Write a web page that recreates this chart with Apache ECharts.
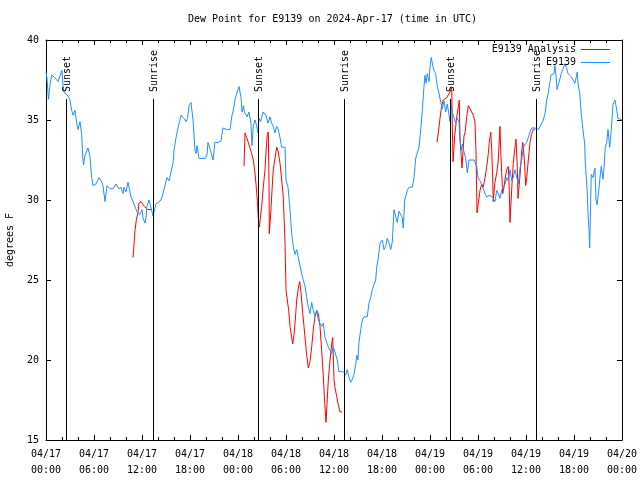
<!DOCTYPE html>
<html>
<head>
<meta charset="utf-8">
<script src="https://cdn.jsdelivr.net/npm/echarts@6/dist/echarts.min.js"></script>
<style>html,body{margin:0;padding:0;background:#fff}#c{width:640px;height:480px}</style>
</head>
<body>
<div id="c"></div>
<script>
// ---- Data (hours since 2024-04-17 00:00 UTC, dew point in deg F) ----
const chartTitle = 'Dew Point for E9139 on 2024-Apr-17 (time in UTC)';
const yAxisName = 'degrees F';
const xTickLabels = ['04/17\n00:00','04/17\n06:00','04/17\n12:00','04/17\n18:00','04/18\n00:00','04/18\n06:00','04/18\n12:00','04/18\n18:00','04/19\n00:00','04/19\n06:00','04/19\n12:00','04/19\n18:00','04/20\n00:00'];
const yTicks = [15, 20, 25, 30, 35, 40];

const obsName = 'E9139';
const analysisName = 'E9139 Analysis';

const obsSeries = [
[0,38.0],[0.12,37.6],[0.31,36.3],[0.5,37.2],[0.71,37.8],[1.0,37.7],[1.25,37.6],[1.5,37.4],[1.75,37.5],[2.0,38.1],
[2.12,37.2],[2.25,36.75],[2.5,36.8],[2.75,36.5],[3.0,36.25],[3.21,35.6],[3.38,35.3],[3.62,35.6],[3.84,34.8],[4.0,34.4],
[4.25,34.9],[4.46,34.1],[4.59,32.7],[4.69,32.2],[4.88,32.8],[5.25,33.25],[5.5,32.7],[5.71,31.4],[5.88,30.9],[6.25,31.0],
[6.5,31.0],[6.62,31.4],[6.88,31.2],[7.12,30.9],[7.38,29.9],[7.62,30.9],[8.0,30.7],[8.38,30.7],[8.5,30.6],[8.75,31.0],
[9.12,30.7],[9.38,30.8],[9.62,30.4],[9.75,30.8],[10.0,30.5],[10.25,31.1],[10.38,30.8],[10.62,30.2],[10.88,29.9],[11.12,29.8],
[11.38,29.25],[11.62,29.3],[11.75,29.1],[12.0,29.4],[12.12,28.9],[12.38,28.55],[12.5,28.9],[12.62,29.6],[12.88,30.0],[13.06,30.1],
[13.25,29.25],[13.38,29.0],[13.56,29.4],[13.75,29.75],[14.12,29.9],[14.38,30.0],[14.62,30.4],[14.81,30.5],[15.12,31.4],[15.38,31.2],
[15.62,31.2],[15.88,32.3],[16.0,33.1],[16.25,33.9],[16.5,34.5],[16.69,34.9],[16.88,35.3],[17.06,35.4],[17.25,35.1],[17.5,34.9],
[17.69,35.1],[17.88,35.9],[18.12,36.1],[18.38,35.0],[18.62,33.1],[18.75,32.9],[18.88,33.4],[19.12,32.6],[19.5,32.6],[19.88,32.6],
[20.12,32.8],[20.25,33.6],[20.56,33.1],[20.88,32.5],[21.12,33.6],[21.5,33.6],[21.88,33.7],[22.12,34.5],[22.62,34.4],[23.0,34.4],
[23.25,35.3],[23.38,35.5],[23.62,36.25],[23.81,36.6],[24.0,36.9],[24.12,37.1],[24.38,36.4],[24.5,35.5],[24.69,35.9],[24.81,35.5],
[24.96,35.4],[25.12,35.2],[25.38,35.5],[25.62,34.8],[25.75,33.4],[25.91,34.6],[26.12,35.0],[26.25,34.8],[26.5,34.2],[26.62,35.1],
[26.84,34.9],[27.12,35.5],[27.25,35.6],[27.5,35.3],[27.75,34.8],[28.0,35.2],[28.21,34.8],[28.41,34.6],[28.62,34.2],[28.84,34.6],
[29.04,34.4],[29.25,33.9],[29.46,33.3],[29.88,33.3],[30.0,31.25],[30.12,31.3],[30.25,30.8],[30.5,29.4],[30.71,27.9],[30.91,27.1],
[31.12,26.6],[31.34,26.9],[31.54,26.4],[31.75,26.4],[31.96,25.4],[32.16,25.0],[32.38,24.6],[32.59,23.9],[32.79,23.3],[33.0,22.9],
[33.21,23.6],[33.41,23.1],[33.62,22.7],[33.84,23.1],[34.04,22.5],[34.25,22.3],[34.46,22.1],[34.66,22.3],[34.88,21.4],[35.09,21.3],
[35.29,20.8],[35.5,20.6],[35.71,20.4],[35.91,20.8],[36.12,20.5],[36.25,20.4],[36.41,20.0],[36.62,19.25],[36.84,19.2],[37.09,19.3],
[37.46,19.06],[37.66,19.4],[37.88,18.9],[38.09,18.6],[38.29,18.8],[38.5,19.1],[38.71,19.7],[38.84,20.3],[39.0,20.0],[39.12,21.1],
[39.34,21.9],[39.54,22.5],[39.75,22.7],[40.16,22.7],[40.38,23.6],[40.59,23.9],[40.79,24.4],[41.0,24.7],[41.21,25.0],[41.34,25.8],
[41.54,26.4],[41.75,27.3],[42.04,27.5],[42.25,26.9],[42.46,27.1],[42.66,27.6],[42.88,27.3],[43.09,26.9],[43.29,27.4],[43.5,29.4],
[43.71,29.3],[43.91,28.6],[44.12,29.3],[44.34,29.4],[44.54,28.9],[44.66,28.25],[44.84,30.0],[45.16,30.6],[45.38,30.8],[45.79,30.8],
[46.0,31.4],[46.21,32.6],[46.41,32.5],[46.62,33.3],[46.84,34.4],[47.04,35.6],[47.25,37.1],[47.38,37.8],[47.5,37.3],[47.66,37.9],
[47.88,37.4],[48.0,38.3],[48.16,38.9],[48.34,38.4],[48.5,38.1],[48.71,37.9],[48.91,37.1],[49.12,36.7],[49.34,36.1],[49.54,35.7],
[49.75,36.2],[49.96,35.5],[50.16,36.0],[50.38,35.3],[50.5,34.9],[50.66,35.9],[50.84,35.4],[51.0,35.5],[51.21,34.8],[51.41,35.1],
[51.62,34.9],[51.75,33.75],[51.91,33.1],[52.04,33.5],[52.25,33.0],[52.46,32.6],[52.66,31.7],[52.88,32.5],[53.09,32.6],[53.5,32.5],
[53.71,32.6],[53.84,32.1],[54.0,31.4],[54.25,31.2],[54.5,30.9],[54.66,30.7],[54.88,30.4],[55.09,30.2],[55.29,30.1],[55.5,30.3],
[55.71,30.2],[55.91,30.1],[56.12,29.9],[56.34,30.6],[56.54,30.4],[56.75,30.1],[56.96,30.6],[57.16,30.8],[57.38,31.0],[57.59,31.4],
[57.79,31.2],[58.0,31.9],[58.21,31.2],[58.41,31.4],[58.62,31.9],[58.84,31.9],[59.04,31.0],[59.25,32.0],[59.46,32.5],[59.66,33.3],
[59.88,33.4],[60.09,33.6],[60.29,33.9],[60.5,34.25],[60.71,34.5],[60.91,34.4],[61.12,34.5],[61.34,34.6],[61.54,34.4],[61.75,34.5],
[61.96,34.8],[62.16,35.0],[62.38,35.4],[62.59,36.25],[62.79,36.7],[63.0,37.4],[63.12,37.8],[63.34,37.9],[63.5,37.9],[63.62,38.4],
[63.75,37.8],[63.88,36.9],[64.09,37.3],[64.25,37.4],[64.41,37.9],[64.62,38.2],[64.88,38.5],[65.09,38.2],[65.25,37.9],[65.46,37.8],
[65.66,37.7],[65.88,37.5],[66.12,37.3],[66.29,37.7],[66.41,38.0],[66.5,37.3],[66.71,36.7],[66.91,35.4],[67.12,34.4],[67.34,33.5],
[67.41,32.3],[67.54,31.4],[67.66,30.4],[67.75,29.2],[67.88,28.1],[67.96,27.0],[68.16,31.6],[68.38,31.4],[68.62,32.0],[68.75,30.0],
[68.88,29.7],[69.09,30.6],[69.25,31.4],[69.41,32.1],[69.62,31.3],[69.75,32.0],[69.91,33.3],[70.09,33.6],[70.25,34.4],[70.46,33.3],
[70.66,34.4],[70.88,36.0],[71.12,36.25],[71.29,35.8],[71.5,35.1],[71.75,35.0],[72.0,35.0]
];

const analysisSeg1 = [
[10.88,26.4],[11.0,27.2],[11.12,28.1],[11.31,28.8],[11.5,29.2],[11.62,29.8],[11.88,29.9],[12.09,29.8],[12.29,29.6],[12.5,29.5],
[12.71,29.4],[12.91,29.4],[13.25,29.4]
];
const analysisSeg2 = [
[24.75,32.1],[24.88,34.2],[25.09,33.9],[25.29,33.6],[25.5,33.25],[25.71,32.9],[25.91,32.5],[26.12,31.7],[26.25,31.0],[26.41,30.0],
[26.54,28.9],[26.66,28.3],[26.84,28.3],[26.96,29.6],[27.16,30.8],[27.38,31.9],[27.5,33.0],[27.66,34.1],[27.79,34.25],[27.88,31.0],
[27.91,27.9],[28.09,29.2],[28.25,30.6],[28.41,31.9],[28.62,32.6],[28.84,33.3],[29.04,33.0],[29.25,32.3],[29.46,31.25],[29.66,30.2],
[29.88,27.3],[30.0,24.4],[30.16,23.75],[30.34,23.1],[30.5,22.1],[30.71,21.4],[30.84,21.0],[31.0,21.6],[31.16,22.5],[31.34,23.75],
[31.54,24.5],[31.71,24.9],[31.88,24.2],[32.09,22.9],[32.25,22.1],[32.41,21.25],[32.59,20.3],[32.79,19.5],[33.0,19.9],[33.21,20.8],
[33.41,21.9],[33.62,22.7],[33.84,23.1],[34.04,22.9],[34.25,22.1],[34.46,20.6],[34.66,19.0],[34.84,17.3],[35.0,16.1],[35.12,17.2],
[35.29,18.75],[35.5,20.0],[35.71,21.0],[35.84,21.4],[36.0,18.75],[36.12,18.3],[36.34,17.7],[36.54,17.2],[36.75,16.75],[37.0,16.75]
];
const analysisSeg3 = [
[48.88,33.6],[49.04,34.2],[49.25,35.1],[49.46,35.9],[49.66,36.25],[50.09,36.4],[50.5,36.75],[50.71,37.0],[50.79,34.5],[50.88,32.4],
[51.09,34.0],[51.34,35.2],[51.54,35.8],[51.66,36.25],[51.75,33.8],[51.91,32.7],[52.0,32.0],[52.12,33.0],[52.25,34.0],[52.38,34.2],
[52.59,35.2],[52.79,35.9],[53.0,35.8],[53.21,35.5],[53.41,35.3],[53.62,34.9],[53.75,33.0],[53.88,29.2],[54.04,29.8],[54.25,30.6],
[54.46,31.0],[54.66,30.8],[54.88,31.4],[55.09,32.1],[55.29,32.9],[55.41,33.6],[55.59,34.25],[55.71,33.2],[55.84,31.25],[55.91,29.9],
[56.0,30.5],[56.12,31.1],[56.34,31.7],[56.54,32.5],[56.66,33.75],[56.75,34.6],[56.84,33.1],[56.96,31.7],[57.09,30.4],[57.25,30.8],
[57.38,31.3],[57.59,31.9],[57.79,32.1],[57.91,30.6],[58.0,28.6],[58.09,29.5],[58.25,31.0],[58.41,32.3],[58.62,33.3],[58.75,33.8],
[58.91,32.1],[59.0,30.1],[59.16,31.0],[59.34,32.1],[59.46,33.0],[59.59,33.6],[59.66,33.4],[59.84,32.1],[59.96,30.9],[60.09,31.4],
[60.29,32.5],[60.5,33.6],[60.71,34.1],[60.91,34.4],[61.12,34.4]
];

const sunHours  = [2.56, 13.42, 26.56, 37.31, 50.56, 61.31];
const sunLabels = ['Sunset','Sunrise','Sunset','Sunrise','Sunset','Sunrise'];
const sunLineTop = 36.3;

// ---- Chart ----
const FONT = '"DejaVu Sans Mono", "Liberation Mono", monospace';
const BLUE = '#1e90ff', RED = '#ff0000';
const chart = echarts.init(document.getElementById('c'), null, {renderer: 'canvas'});

const lineBase = {type: 'line', showSymbol: false, symbol: 'none', animation: false,
  lineStyle: {width: 1}, emphasis: {disabled: true}, silent: true, z: 2};

const axisCommonX = {type: 'value', min: 0, max: 72, interval: 6,
  axisLine: {show: true, onZero: false, lineStyle: {color: '#000', width: 1}},
  axisTick: {show: true, inside: true, length: 5, lineStyle: {color: '#000'}},
  minorTick: {show: true, splitNumber: 3, length: 3, lineStyle: {color: '#000'}},
  splitLine: {show: false}};
const axisCommonY = {type: 'value', min: 15, max: 40, interval: 5,
  axisLine: {show: true, onZero: false, lineStyle: {color: '#000', width: 1}},
  axisTick: {show: true, inside: true, length: 5, lineStyle: {color: '#000'}},
  splitLine: {show: false}};

chart.setOption({
  animation: false,
  backgroundColor: '#fff',
  title: {text: chartTitle, left: 188, top: 14, padding: 0,
    textStyle: {fontFamily: FONT, fontSize: 10, fontWeight: 'normal', color: '#000'}},
  legend: {orient: 'vertical', right: 30, top: 43, align: 'right', itemGap: 0, padding: 0,
    itemWidth: 29, itemHeight: 1, icon: 'rect',
    data: [analysisName, obsName],
    textStyle: {fontFamily: FONT, fontSize: 10, color: '#000', lineHeight: 13}},
  grid: {left: 46, right: 18, top: 40, bottom: 40, containLabel: false, outerBoundsMode: 'none'},
  xAxis: [
    Object.assign({}, axisCommonX, {position: 'bottom',
      axisLabel: {show: true, margin: 6, fontFamily: FONT, fontSize: 10, color: '#000', lineHeight: 16,
        formatter: function (v) { return xTickLabels[Math.round(v / 6)] || ''; }}}),
    Object.assign({}, axisCommonX, {position: 'top', axisLabel: {show: false}})
  ],
  yAxis: [
    Object.assign({}, axisCommonY, {position: 'left', name: yAxisName, nameLocation: 'middle',
      nameGap: 31, nameRotate: 90,
      nameTextStyle: {fontFamily: FONT, fontSize: 10, color: '#000'},
      axisLabel: {show: true, margin: 7, fontFamily: FONT, fontSize: 10, color: '#000',
        formatter: function (v) { return yTicks.indexOf(v) >= 0 ? String(v) : ''; }}}),
    Object.assign({}, axisCommonY, {position: 'right', axisLabel: {show: false}})
  ],
  series: [
    Object.assign({}, lineBase, {name: analysisName, data: analysisSeg1, color: RED, lineStyle: {width: 1, color: RED}}),
    Object.assign({}, lineBase, {name: analysisName, data: analysisSeg2, color: RED, lineStyle: {width: 1, color: RED}}),
    Object.assign({}, lineBase, {name: analysisName, data: analysisSeg3, color: RED, lineStyle: {width: 1, color: RED}}),
    Object.assign({}, lineBase, {name: obsName, data: obsSeries, color: BLUE, lineStyle: {width: 1, color: BLUE}, z: 3}),
    {
      type: 'custom', name: 'sun', silent: true, clip: false, z: 4, animation: false,
      data: sunHours.map(function (h) { return [h]; }),
      encode: {x: 0},
      renderItem: function (params, api) {
        const h = api.value(0);
        const p0 = api.coord([h, 15]);
        const p1 = api.coord([h, sunLineTop]);
        const x = Math.round(p0[0]) + 0.5;
        return {type: 'group', children: [
          {type: 'line', shape: {x1: x, y1: p0[1], x2: x, y2: Math.round(p1[1])},
           style: {stroke: '#000', lineWidth: 1}},
          {type: 'text', x: x + 1, y: Math.round(p1[1]) - 7, rotation: Math.PI / 2,
           style: {text: sunLabels[params.dataIndex], font: '10px ' + FONT, fill: '#000',
                   align: 'left', verticalAlign: 'middle'}}
        ]};
      }
    }
  ]
});
</script>
</body>
</html>
